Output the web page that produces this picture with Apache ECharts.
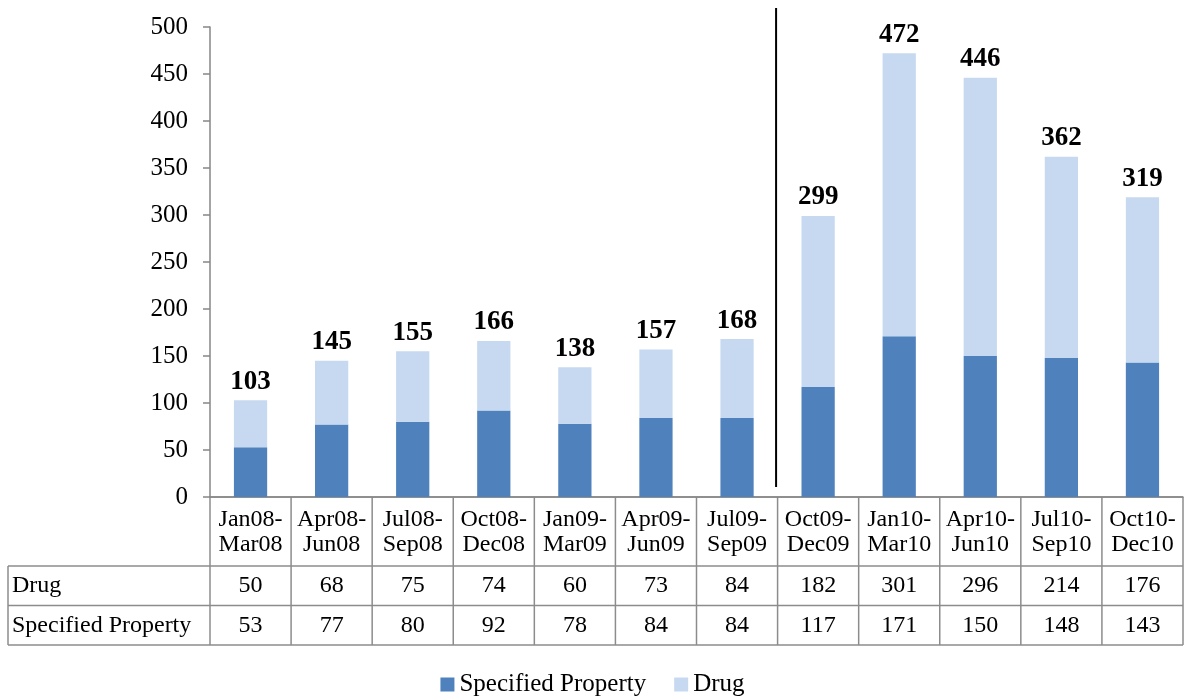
<!DOCTYPE html>
<html>
<head>
<meta charset="utf-8">
<script src="https://cdn.jsdelivr.net/npm/echarts@6/dist/echarts.min.js"></script>
<style>html,body{margin:0;padding:0;background:#fff}#c{width:1185px;height:696px}</style>
</head>
<body>
<div id="c"></div>
<script>
const categories = ['Jan08-\nMar08','Apr08-\nJun08','Jul08-\nSep08','Oct08-\nDec08','Jan09-\nMar09','Apr09-\nJun09','Jul09-\nSep09','Oct09-\nDec09','Jan10-\nMar10','Apr10-\nJun10','Jul10-\nSep10','Oct10-\nDec10'];
const drug = [50,68,75,74,60,73,84,182,301,296,214,176];
const specifiedProperty = [53,77,80,92,78,84,84,117,171,150,148,143];
const seriesNames = ['Specified Property','Drug'];
const tableRows = [['Drug', drug], ['Specified Property', specifiedProperty]];
const dividerAfterIndex = 6;

const FONT = "'Liberation Serif','DejaVu Serif',serif";
const chart = echarts.init(document.getElementById('c'));
const totals = drug.map((d,i)=>d+specifiedProperty[i]);

chart.setOption({
  animation:false,
  grid:{left:210,right:2,top:27,bottom:199,containLabel:false},
  legend:{top:667,left:'center',itemWidth:14,itemHeight:14,itemGap:28,icon:'rect',
    textStyle:{fontFamily:FONT,fontSize:25,color:'#000',padding:[0,0,0,0]},data:seriesNames},
  xAxis:{type:'category',data:categories,axisLine:{show:true,lineStyle:{color:'#868686',width:1.5}},
    axisTick:{show:false},axisLabel:{show:false}},
  yAxis:{type:'value',min:0,max:500,interval:50,splitLine:{show:false},
    axisLine:{show:true,lineStyle:{color:'#868686',width:1.5}},
    axisTick:{show:true,inside:false,length:7,lineStyle:{color:'#868686',width:1.5}},
    axisLabel:{fontFamily:FONT,fontSize:25,color:'#000',margin:22}},
  series:[
    {name:'Specified Property',type:'bar',stack:'a',data:specifiedProperty,barCategoryGap:'59%',
      itemStyle:{color:'#4F81BD'}},
    {name:'Drug',type:'bar',stack:'a',data:drug,itemStyle:{color:'#C6D9F1'},
      label:{show:true,position:'top',distance:5,fontFamily:FONT,fontSize:27,fontWeight:'bold',color:'#000',
        formatter:p=>String(totals[p.dataIndex])}}
  ]
});

function buildGraphics(){
  const c0 = chart.convertToPixel({xAxisIndex:0}, 0);
  const c1 = chart.convertToPixel({xAxisIndex:0}, 1);
  const step = c1 - c0;
  const left = c0 - step/2;
  const n = categories.length;
  const right = left + step*n;
  const yZero = chart.convertToPixel({yAxisIndex:0}, 0);
  const yTop = chart.convertToPixel({yAxisIndex:0}, 500);
  const tableLeft = 8;
  const hdrBottom = yZero + 69;
  const rowH = 39.5;
  const els = [];
  const stroke = {stroke:'#8c8c8c',lineWidth:1.5};
  const line = (x1,y1,x2,y2,st)=>els.push({type:'line',shape:{x1,y1,x2,y2},style:st||stroke,silent:true});
  line(left, yZero, right, yZero);
  line(tableLeft, hdrBottom, right, hdrBottom);
  line(tableLeft, hdrBottom+rowH, right, hdrBottom+rowH);
  line(tableLeft, hdrBottom+2*rowH, right, hdrBottom+2*rowH);
  for(let i=0;i<=n;i++){ const x=left+step*i; line(x, yZero, x, hdrBottom+2*rowH); }
  line(tableLeft, hdrBottom, tableLeft, hdrBottom+2*rowH);
  categories.forEach((cat,i)=>{
    els.push({type:'text',x:left+step*(i+0.5),y:yZero+35,silent:true,
      style:{text:cat,fontFamily:FONT,fontSize:24,fill:'#000',align:'center',verticalAlign:'middle',lineHeight:25}});
  });
  tableRows.forEach((row,r)=>{
    const yc = hdrBottom + rowH*(r+0.5);
    els.push({type:'text',x:tableLeft+4,y:yc,silent:true,
      style:{text:row[0],fontFamily:FONT,fontSize:24,fill:'#000',align:'left',verticalAlign:'middle'}});
    row[1].forEach((v,i)=>{
      els.push({type:'text',x:left+step*(i+0.5),y:yc,silent:true,
        style:{text:String(v),fontFamily:FONT,fontSize:24,fill:'#000',align:'center',verticalAlign:'middle'}});
    });
  });
  const dx = left + step*(dividerAfterIndex+1) - 1.5;
  line(dx, yTop-19, dx, yZero-10, {stroke:'#000',lineWidth:2});
  chart.setOption({graphic:{elements:els}});
}
buildGraphics();
</script>
</body>
</html>
